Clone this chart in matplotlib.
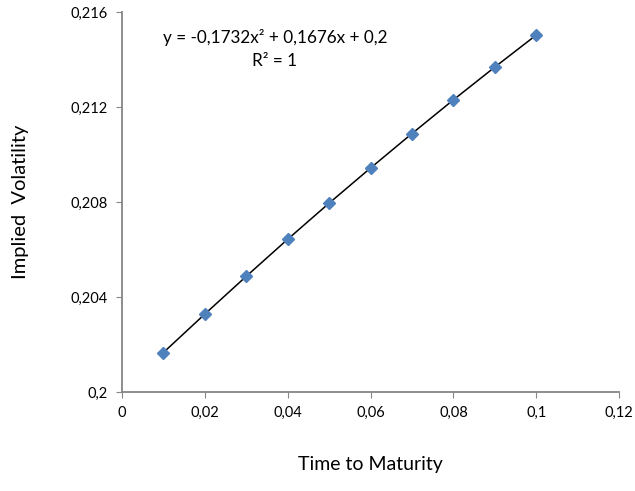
import matplotlib
matplotlib.use('Agg')
import matplotlib.pyplot as plt
from matplotlib.ticker import FuncFormatter, MultipleLocator

plt.rcParams['font.family'] = ['Lato', 'DejaVu Sans']

# data
maturity = [0.01, 0.02, 0.03, 0.04, 0.05, 0.06, 0.07, 0.08, 0.09, 0.10]
implied_vol = [0.20166, 0.20328, 0.20487, 0.20643, 0.20795, 0.20943,
               0.21088, 0.21230, 0.21368, 0.21503]

MARKER_BLUE = '#4F81BD'
AXIS_GRAY = '#868686'


def comma_fmt(v, pos):
    s = f'{v:.3f}'.rstrip('0').rstrip('.')
    return s.replace('.', ',')


fig = plt.figure(figsize=(6.35, 4.91), dpi=100)
ax = fig.add_axes([0.192, 0.2016, 0.783, 0.774])

ax.plot(maturity, implied_vol, color='black', linewidth=1.1, zorder=2)
ax.plot(maturity, implied_vol, linestyle='none', marker='D', markersize=6.5,
        color=MARKER_BLUE, markeredgecolor=MARKER_BLUE, zorder=3)

ax.set_xlim(0, 0.12)
ax.set_ylim(0.2, 0.216)
ax.xaxis.set_major_locator(MultipleLocator(0.02))
ax.yaxis.set_major_locator(MultipleLocator(0.004))
ax.xaxis.set_major_formatter(FuncFormatter(comma_fmt))
ax.yaxis.set_major_formatter(FuncFormatter(comma_fmt))

for sp in ['top', 'right']:
    ax.spines[sp].set_visible(False)
for sp in ['left', 'bottom']:
    ax.spines[sp].set_color(AXIS_GRAY)
    ax.spines[sp].set_linewidth(1.3)
ax.tick_params(direction='out', length=4, color=AXIS_GRAY, labelsize=10.5,
               labelcolor='black', pad=6)

ax.set_xlabel('Time to Maturity', fontsize=14, labelpad=26)
ax.set_ylabel('Implied  Volatility', fontsize=14.5, labelpad=30)

ax.text(0.308, 0.933, 'y = -0,1732x² + 0,1676x + 0,2', transform=ax.transAxes,
        ha='center', va='center', fontsize=12.3)
ax.text(0.308, 0.872, 'R² = 1', transform=ax.transAxes,
        ha='center', va='center', fontsize=12.3)

fig.savefig('out.png', dpi=100, facecolor='white')
